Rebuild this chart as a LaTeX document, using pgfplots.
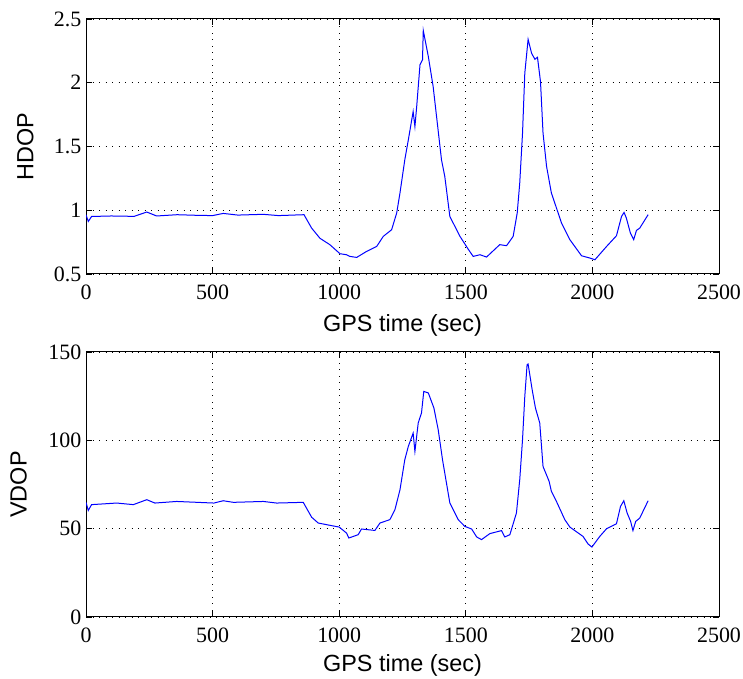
\documentclass[border=0pt]{standalone}
\usepackage{fontspec}
\setmainfont{Liberation Serif}
\newfontfamily\arialf{Liberation Sans}
\usepackage{pgfplots}
\pgfplotsset{compat=1.18}
\pgfplotsset{
  matlab/.style={
    scale only axis, anchor=south west,
    width=633bp,
    xmin=0, xmax=2500, xtick={0,500,...,2500},
    grid=major, grid style={black, line width=0.9bp, dash pattern=on 0.9bp off 5.6bp},
    tick align=inside, xtick pos=both, ytick pos=both,
    major tick length=6bp,
    axis line style={black, line width=1bp},
    every tick/.style={black, line width=0.8bp},
    ticklabel style={font=\fontsize{22}{22}\selectfont},
    xticklabel style={yshift=-7.5bp},
    yticklabel style={xshift=-1.2bp},
    /pgf/number format/assume math mode=true,
    /pgf/number format/1000 sep={},
    scaled ticks=false,
    label style={font=\arialf\fontsize{23.5}{23.5}\selectfont},
    xlabel={GPS time (sec)},
    clip=true,
  }
}
\begin{document}
\begin{tikzpicture}[x=1bp,y=1bp]
\path[use as bounding box] (0,0) rectangle (743,679);
\begin{axis}[matlab, at={(86bp,405bp)}, height=255bp,
  ymin=0.5, ymax=2.5, ytick={0.5,1,1.5,2,2.5},
  xlabel style={at={(axis description cs:0.5,-0.225)}, anchor=base},
  ylabel style={at={(axis description cs:-0.0833,0.5)}, anchor=base},
  ylabel={HDOP}]
\addplot[blue, line width=1bp] coordinates {
(0,0.965) (9,0.912) (22,0.951) (100,0.955) (190,0.952) (240,0.986) (279,0.955)
(360,0.965) (440,0.96) (500,0.958) (542,0.975) (600,0.962) (700,0.968) (760,0.958)
(861,0.965) (891,0.86) (924,0.78) (963,0.73) (1003,0.659) (1029,0.651) (1042,0.638)
(1069,0.630) (1108,0.677) (1148,0.716) (1174,0.795) (1207,0.847) (1227,0.978)
(1240,1.135) (1259,1.395) (1273,1.552) (1292,1.774) (1299,1.656) (1306,1.813)
(1319,2.14) (1329,2.18) (1332,2.41) (1352,2.205) (1371,1.97) (1404,1.395)
(1417,1.265) (1437,0.951) (1477,0.795) (1509,0.696) (1529,0.638) (1556,0.651)
(1582,0.633) (1634,0.73) (1661,0.722) (1687,0.795) (1703,0.978) (1713,1.213)
(1724,1.605) (1733,2.075) (1746,2.34) (1760,2.23) (1773,2.184) (1783,2.2)
(1795,2.009) (1805,1.605) (1819,1.343) (1838,1.135) (1878,0.9) (1911,0.769)
(1957,0.643) (1990,0.625) (2010,0.612) (2056,0.716) (2095,0.8) (2115,0.951)
(2125,0.983) (2134,0.939) (2150,0.821) (2163,0.769) (2174,0.842) (2187,0.86)
(2220,0.965)
};
\end{axis}
\begin{axis}[matlab, at={(86bp,62bp)}, height=265bp,
  ymin=0, ymax=150, ytick={0,50,100,150},
  xlabel style={at={(axis description cs:0.5,-0.207)}, anchor=base},
  ylabel style={at={(axis description cs:-0.0937,0.5)}, anchor=base},
  ylabel={VDOP}]
\addplot[blue, line width=1bp] coordinates {
(0,64.9) (9,60.3) (22,63.6) (121,64.5) (187,63.6) (240,66.4) (272,64.5)
(358,65.4) (440,64.9) (505,64.5) (542,65.8) (582,64.9) (700,65.4) (753,64.5)
(858,64.9) (891,56.5) (917,53.2) (963,51.9) (1000,50.9) (1029,47.5) (1038,44.7)
(1075,46.6) (1088,49.8) (1141,49) (1161,53.2) (1200,55.1) (1220,60.7) (1240,72)
(1259,89) (1273,96.6) (1292,104.1) (1299,93.7) (1312,109.8) (1325,115.5)
(1334,127.7) (1352,126.8) (1374,118.3) (1391,106) (1408,89) (1437,64.5)
(1470,55.1) (1496,51.3) (1523,49.8) (1543,45.3) (1562,43.8) (1595,47.2)
(1641,48.9) (1654,45.3) (1674,46.6) (1700,58.9) (1713,77.7) (1724,100.4)
(1733,124.9) (1742,142.8) (1746,143.2) (1762,128.7) (1775,118.3) (1792,109.8)
(1805,85.2) (1829,76.8) (1838,71.1) (1858,65.4) (1891,55.1) (1911,50.9)
(1963,45.6) (1983,41.3) (1998,39.6) (2029,45.6) (2056,50) (2095,52.8)
(2111,62.6) (2124,65.8) (2137,58.9) (2151,54.1) (2160,48.9) (2171,54.1)
(2187,56) (2220,65.8)
};
\end{axis}
\end{tikzpicture}
\end{document}
